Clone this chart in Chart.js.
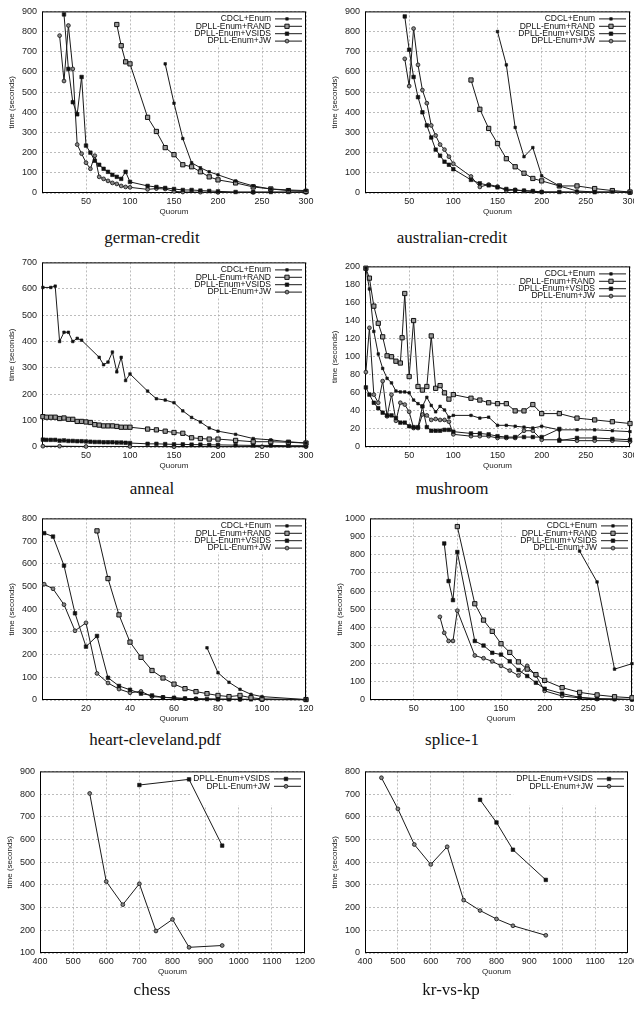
<!DOCTYPE html>
<html>
<head>
<meta charset="utf-8">
<script src="https://cdn.jsdelivr.net/npm/chart.js@4"></script>
<style>
  html, body { margin: 0; padding: 0; background: #fff; }
  body { width: 634px; height: 1011px; position: relative; overflow: hidden; }
  canvas { position: absolute; }
  .cap {
    position: absolute; transform: translateX(-50%); white-space: nowrap;
    font-family: 'Liberation Serif', 'DejaVu Serif', serif; font-size: 17px; color: #111;
  }
</style>
</head>
<body>
<script>
// ── Data (quorum, seconds) ────────────────────────────────────
const seriesNames = ['CDCL+Enum', 'DPLL-Enum+RAND', 'DPLL-Enum+VSIDS', 'DPLL-Enum+JW'];
const chessNames  = ['DPLL-Enum+VSIDS', 'DPLL-Enum+JW'];

// german-credit
const germanCdcl  = [[140,640],[150,445],[160,270],[170,150],[180,125],[190,105],[200,90],[220,60],[240,35],[260,20],[280,15],[300,12]];
const germanRand  = [[85,835],[90,730],[95,650],[100,640],[120,375],[130,305],[140,225],[150,190],[160,140],[170,130],[180,105],[190,80],[200,65],[220,50],[240,30],[260,20],[280,12],[300,8]];
const germanVsids = [[25,885],[30,615],[35,450],[40,390],[45,575],[50,235],[55,200],[60,160],[65,140],[70,120],[75,105],[80,90],[85,80],[90,70],[95,105],[100,55],[120,35],[130,30],[140,25],[150,20],[160,15],[170,15],[180,12],[190,10],[200,8],[220,5],[240,5],[260,5],[280,5],[300,5]];
const germanJw    = [[20,780],[25,555],[30,830],[35,615],[40,240],[45,195],[50,150],[55,120],[60,185],[65,80],[70,70],[75,60],[80,50],[85,45],[90,35],[95,30],[100,28],[120,18],[130,22],[140,20],[150,8],[160,5],[180,4],[200,3],[240,3],[300,3]];

// australian-credit
const ausCdcl  = [[150,800],[160,635],[170,325],[180,180],[190,225],[200,85],[220,35],[240,10],[260,5],[280,5],[300,3]];
const ausRand  = [[120,560],[130,415],[140,320],[150,245],[160,170],[170,130],[180,98],[190,72],[200,60],[220,35],[240,35],[260,22],[280,12],[300,5]];
const ausVsids = [[45,875],[50,710],[55,575],[60,475],[65,400],[70,335],[75,275],[80,215],[85,185],[90,155],[95,140],[100,118],[120,65],[130,48],[140,38],[150,28],[160,20],[170,15],[180,12],[190,10],[200,5],[220,5],[260,4],[300,3]];
const ausJw    = [[45,665],[50,530],[55,815],[60,635],[65,510],[70,445],[75,335],[80,285],[85,240],[90,215],[95,180],[100,145],[120,82],[130,30],[140,42],[150,32],[160,12],[170,15],[180,10],[190,8],[200,5],[240,4],[300,3]];

// anneal
const annealCdcl  = [[1,605],[10,605],[15,610],[20,400],[25,435],[30,435],[35,400],[40,412],[45,405],[65,340],[70,312],[75,322],[80,360],[85,285],[90,340],[95,252],[100,277],[120,212],[130,183],[140,178],[150,168],[160,137],[170,112],[180,95],[190,72],[200,60],[220,48],[240,32],[260,27],[280,20],[300,15]];
const annealRand  = [[1,115],[5,113],[10,113],[15,113],[20,108],[25,110],[30,105],[35,105],[40,97],[45,97],[50,95],[55,93],[60,85],[65,83],[70,80],[75,80],[80,80],[85,78],[90,75],[95,75],[100,75],[120,68],[130,65],[140,60],[150,55],[160,52],[170,35],[180,32],[190,30],[200,30],[220,25],[240,20],[260,20],[280,18],[300,15]];
const annealVsids = [[1,28],[5,27],[10,27],[15,27],[20,24],[25,25],[30,23],[35,23],[40,22],[45,22],[50,21],[55,20],[60,19],[65,19],[70,18],[75,18],[80,18],[85,17],[90,17],[95,16],[100,15],[120,12],[130,12],[140,11],[150,10],[160,10],[170,9],[180,9],[190,8],[200,8],[220,7],[240,6],[260,6],[280,5],[300,5]];
const annealJw    = [[1,3],[20,3],[50,2],[100,2],[150,1],[200,1],[250,1],[300,1]];

// mushroom
const mushCdcl  = [[1,198],[5,175],[10,128],[15,103],[20,87],[25,76],[30,71],[35,62],[40,61],[45,61],[50,60],[55,52],[60,48],[65,45],[70,55],[75,46],[80,39],[85,45],[90,41],[95,33],[100,35],[120,35],[130,32],[140,33],[150,24],[160,24],[170,23],[180,22],[190,21],[200,23],[220,19],[240,19],[260,19],[280,18],[300,17]];
const mushRand  = [[1,198],[5,187],[10,156],[15,137],[20,122],[25,101],[30,100],[35,95],[40,93],[42,121],[45,170],[50,78],[55,140],[60,67],[65,63],[70,67],[75,123],[80,65],[85,68],[90,60],[95,53],[100,58],[120,54],[130,52],[140,49],[150,48],[160,48],[170,40],[180,40],[190,47],[200,37],[220,37],[240,32],[260,30],[280,28],[300,26]];
const mushVsids = [[1,66],[5,58],[10,49],[15,43],[20,38],[25,35],[30,35],[35,32],[40,27],[45,27],[50,23],[55,22],[60,22],[65,45],[70,22],[75,18],[80,18],[85,18],[90,19],[95,19],[100,17],[120,15],[130,15],[140,14],[150,12],[160,11],[170,11],[180,11],[190,11],[200,11],[220,20],[220,7],[240,10],[260,10],[280,9],[300,8]];
const mushJw    = [[1,83],[5,132],[10,58],[15,49],[20,73],[25,34],[30,58],[35,29],[40,49],[45,47],[50,39],[55,21],[60,21],[65,36],[70,35],[75,30],[80,31],[85,30],[90,30],[95,28],[100,14],[120,12],[130,12],[140,12],[150,10],[160,10],[170,10],[180,18],[190,18],[200,8],[220,8],[240,7],[260,7],[280,7],[300,6]];

// heart-cleveland
const heartCdcl  = [[75,230],[80,120],[85,78],[90,47],[95,25],[100,15],[120,2]];
const heartRand  = [[25,745],[30,535],[35,375],[40,255],[45,188],[50,130],[55,97],[60,70],[65,50],[70,37],[75,28],[80,20],[85,15],[90,20],[95,10],[100,5],[120,2]];
const heartVsids = [[1,735],[5,720],[10,592],[15,382],[20,235],[25,282],[30,98],[35,62],[40,45],[45,28],[50,20],[55,12],[60,10],[65,7],[70,5],[75,4],[80,3],[85,3],[90,3],[95,3],[100,2],[120,1]];
const heartJw    = [[1,510],[5,490],[10,420],[15,305],[20,340],[25,117],[30,75],[35,48],[40,32],[45,38],[50,15],[55,12],[60,8],[65,6],[70,5],[80,4],[90,3],[100,2],[120,2]];

// splice-1
const spliceCdcl  = [[240,820],[260,650],[280,170],[300,200]];
const spliceRand  = [[100,955],[120,530],[130,440],[140,378],[150,310],[160,262],[170,210],[180,170],[190,140],[200,108],[220,68],[240,42],[260,28],[280,18],[300,12]];
const spliceVsids = [[85,862],[90,655],[95,550],[100,815],[120,325],[130,300],[140,260],[150,250],[160,213],[170,165],[180,132],[190,95],[200,62],[220,35],[240,15],[260,8],[280,5],[300,3]];
const spliceJw    = [[80,458],[85,370],[90,325],[95,325],[100,492],[120,245],[130,230],[140,213],[150,188],[160,162],[170,135],[180,188],[190,135],[200,50],[220,22],[240,12],[260,5],[280,5],[300,3]];

// chess
const chessVsids = [[700,840],[850,865],[950,573]];
const chessJw    = [[550,803],[600,415],[650,313],[700,405],[750,197],[800,248],[850,125],[950,133]];

// kr-vs-kp
const krVsids = [[750,675],[800,575],[850,455],[950,322]];
const krJw    = [[450,772],[500,635],[550,478],[600,390],[650,468],[700,233],[750,187],[800,150],[850,120],[950,78]];

// ── Panels ────────────────────────────────────────────────────
const panels = [
  { caption: 'german-credit',       capX: 152, capY: 228, plot: [42, 7, 306, 193],    x: [0, 300, 50],    y: [0, 900, 100],  names: seriesNames, series: [germanCdcl, germanRand, germanVsids, germanJw] },
  { caption: 'australian-credit',   capX: 452, capY: 228, plot: [365, 7, 630, 193],   x: [0, 300, 50],    y: [0, 900, 100],  names: seriesNames, series: [ausCdcl, ausRand, ausVsids, ausJw] },
  { caption: 'anneal',              capX: 152, capY: 479, plot: [42, 258, 306, 447],  x: [0, 300, 50],    y: [0, 700, 100],  names: seriesNames, series: [annealCdcl, annealRand, annealVsids, annealJw] },
  { caption: 'mushroom',            capX: 452, capY: 479, plot: [365, 262, 630, 447], x: [0, 300, 50],    y: [0, 200, 20],   names: seriesNames, series: [mushCdcl, mushRand, mushVsids, mushJw] },
  { caption: 'heart-cleveland.pdf', capX: 155, capY: 730, plot: [42, 514, 306, 700],  x: [0, 120, 20],    y: [0, 800, 100],  names: seriesNames, series: [heartCdcl, heartRand, heartVsids, heartJw] },
  { caption: 'splice-1',            capX: 452, capY: 730, plot: [370, 514, 632, 700], x: [0, 300, 50],    y: [0, 1000, 100], names: seriesNames, series: [spliceCdcl, spliceRand, spliceVsids, spliceJw] },
  { caption: 'chess',               capX: 152, capY: 980, plot: [40, 767, 306, 953],  x: [400, 1200, 100], y: [100, 900, 100], names: chessNames, series: [chessVsids, chessJw] },
  { caption: 'kr-vs-kp',            capX: 451, capY: 980, plot: [365, 767, 629, 953], x: [400, 1200, 100], y: [0, 800, 100],  names: chessNames, series: [krVsids, krJw] },
];

// ── Styles ────────────────────────────────────────────────────
const FONT = "'Liberation Sans', Arial, sans-serif";
const styles = {
  'CDCL+Enum':       { pointStyle: 'rect',   pointRadius: 1.8, pointBackgroundColor: '#111',    pointBorderColor: '#111', pointBorderWidth: 0.6 },
  'DPLL-Enum+RAND':  { pointStyle: 'rect',   pointRadius: 3,   pointBackgroundColor: '#9a9a9a', pointBorderColor: '#111', pointBorderWidth: 1 },
  'DPLL-Enum+VSIDS': { pointStyle: 'rect',   pointRadius: 2.5, pointBackgroundColor: '#111',    pointBorderColor: '#111', pointBorderWidth: 0.6 },
  'DPLL-Enum+JW':    { pointStyle: 'circle', pointRadius: 1.9, pointBackgroundColor: '#888',    pointBorderColor: '#111', pointBorderWidth: 0.8 },
};

const L = 42, T = 6, R = 12, B = 28;

const drawMark = (ctx, st, x, y) => {
  ctx.beginPath();
  if (st.pointStyle === 'circle') {
    ctx.arc(x, y, st.pointRadius, 0, Math.PI * 2);
  } else {
    const s = st.pointRadius * Math.SQRT1_2;
    ctx.rect(x - s, y - s, 2 * s, 2 * s);
  }
  ctx.fillStyle = st.pointBackgroundColor;
  ctx.fill();
  ctx.lineWidth = st.pointBorderWidth;
  ctx.strokeStyle = st.pointBorderColor;
  ctx.stroke();
};

// gnuplot-like key inside the plot + full frame
const gnuKey = {
  id: 'gnuKey',
  beforeDatasetsDraw(chart, args, opts) {
    const { ctx, chartArea: a } = chart;
    ctx.save();
    ctx.font = opts.font;
    const w = Math.max(...opts.labels.map(l => ctx.measureText(l).width));
    ctx.fillStyle = '#fff';
    ctx.fillRect(a.right - 35 - w - 3, a.top + 1, w + 37, 33);
    ctx.strokeStyle = '#000';
    ctx.lineWidth = 1;
    ctx.strokeRect(a.left + 0.5, a.top + 0.5, a.width - 1, a.height - 1);
    ctx.restore();
  },
  afterDatasetsDraw(chart, args, opts) {
    const { ctx, chartArea: a } = chart;
    ctx.save();
    ctx.font = opts.font;
    ctx.textAlign = 'right';
    ctx.textBaseline = 'middle';
    opts.labels.forEach((label, i) => {
      const y = a.top + 7.5 + i * 7.4;
      ctx.fillStyle = '#111';
      ctx.fillText(label, a.right - 35, y);
      ctx.beginPath();
      ctx.moveTo(a.right - 31, y);
      ctx.lineTo(a.right - 4, y);
      ctx.strokeStyle = '#1a1a1a';
      ctx.lineWidth = 1;
      ctx.stroke();
      drawMark(ctx, styles[label], a.right - 19, y);
    });
    ctx.restore();
  },
};

const axisTicks = { color: '#222', font: { family: FONT, size: 9 } };
const axisGrid  = { color: '#ababab', lineWidth: 0.8, drawTicks: false };

panels.forEach(p => {
  const [pl, pt, pr, pb] = p.plot;
  const canvas = document.createElement('canvas');
  canvas.width  = pr - pl + L + R;
  canvas.height = pb - pt + T + B;
  canvas.style.left = (pl - L) + 'px';
  canvas.style.top  = (pt - T) + 'px';
  document.body.appendChild(canvas);

  const cap = document.createElement('div');
  cap.className = 'cap';
  cap.textContent = p.caption;
  cap.style.left = p.capX + 'px';
  cap.style.top  = p.capY + 'px';
  document.body.appendChild(cap);

  new Chart(canvas, {
    type: 'line',
    data: {
      datasets: p.series.map((s, i) => ({
        label:       p.names[i],
        data:        s.map(([x, y]) => ({ x, y })),
        borderColor: '#1a1a1a',
        borderWidth: 1,
        clip:        false,
        ...styles[p.names[i]],
      })),
    },
    options: {
      responsive:       false,
      animation:        false,
      devicePixelRatio: 1,
      layout: { padding: { top: T, right: R, left: 0, bottom: 0 } },
      plugins: {
        legend:  { display: false },
        tooltip: { enabled: false },
        gnuKey:  { labels: p.names, font: `8.5px ${FONT}` },
      },
      scales: {
        x: {
          type: 'linear',
          min: p.x[0], max: p.x[1],
          ticks: { ...axisTicks, stepSize: p.x[2], autoSkip: false, maxRotation: 0, padding: 3,
                   callback: v => (v === 0 ? '' : String(v)) },
          grid: axisGrid,
          border: { display: false, dash: [2, 2] },
          title: { display: true, text: 'Quorum', color: '#222', font: { family: FONT, size: 8 }, padding: { top: 2, bottom: 4 } },
          afterFit: s => { s.height = B; },
        },
        y: {
          type: 'linear',
          min: p.y[0], max: p.y[1],
          ticks: { ...axisTicks, stepSize: p.y[2], autoSkip: false, padding: 5, callback: v => String(v) },
          grid: axisGrid,
          border: { display: false, dash: [2, 2] },
          title: { display: true, text: 'time (seconds)', color: '#222', font: { family: FONT, size: 8 }, padding: { top: 7, bottom: 2 } },
          afterFit: s => { s.width = L; },
        },
      },
    },
    plugins: [gnuKey],
  });
});
</script>
</body>
</html>
